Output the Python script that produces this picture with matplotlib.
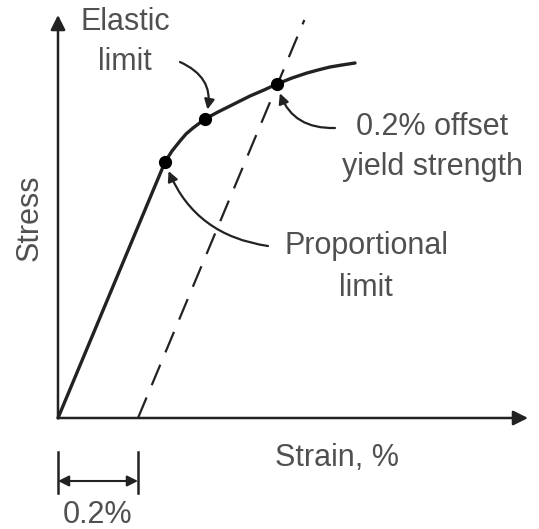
import matplotlib.pyplot as plt
import numpy as np

# curva tensão x deformação (deformação em %, tensão em unidades arbitrárias)
deformacao = np.array([0.0, 0.2675, 0.285, 0.305, 0.32, 0.3375, 0.3675, 0.40, 0.43, 0.455,
                       0.48, 0.515, 0.5475, 0.585, 0.6225, 0.65, 0.68, 0.71, 0.7425])
tensao = np.array([0.0, 256, 267, 277, 284, 290, 299, 306, 312, 317,
                   322, 328, 334, 340, 345, 348, 351, 353, 355])

offset = 0.2  # deslocamento de 0.2%
modulo = tensao[1] / deformacao[1]
tensao_max_offset = 398

# pontos destacados: limite de proporcionalidade, elástico, escoamento
idx_prop, idx_elast, idx_esc = 1, 6, 12

cor = '#222222'
cor_txt = '#505050'
plt.rcParams['font.family'] = ['Liberation Sans', 'DejaVu Sans']

fig = plt.figure(figsize=(5.39, 5.29), dpi=100)
ax = fig.add_axes([0, 0, 1, 1])
ax.set_xlim(-0.145, 1.2025)
ax.set_ylim(-111, 418)
ax.axis('off')

# eixos com setas
seta = dict(arrowstyle='-|>', color=cor, lw=1.8, mutation_scale=22, shrinkA=0, shrinkB=0)
ax.annotate('', xy=(0, 403), xytext=(0, 0), arrowprops=seta)
ax.annotate('', xy=(1.175, 0), xytext=(0, 0), arrowprops=seta)

# curva
ax.plot(deformacao, tensao, color=cor, lw=2.4, solid_capstyle='round', solid_joinstyle='round')

# linha paralela com offset de 0.2%
x_off = np.array([offset, offset + tensao_max_offset / modulo])
ax.plot(x_off, modulo * (x_off - offset), color=cor, lw=1.6, ls=(0, (10, 6)))

# pontos
pts = [idx_prop, idx_elast, idx_esc]
ax.plot(deformacao[pts], tensao[pts], 'o', color='black', ms=8.5)

# anotações
fs = 22
seta_curva = dict(arrowstyle='-|>', color=cor, lw=1.6, mutation_scale=15, shrinkA=0, shrinkB=7)
ax.text(0.1675, 376, 'Elastic\nlimit', ha='center', va='center', fontsize=fs, color=cor_txt, linespacing=1.45)
ax.annotate('', xy=(deformacao[idx_elast], tensao[idx_elast]), xytext=(0.305, 356),
            arrowprops=dict(seta_curva, connectionstyle='arc3,rad=-0.45'))

ax.text(0.935, 271, '0.2% offset\nyield strength', ha='center', va='center', fontsize=fs, color=cor_txt, linespacing=1.4)
ax.annotate('', xy=(deformacao[idx_esc], tensao[idx_esc]), xytext=(0.6925, 290),
            arrowprops=dict(seta_curva, connectionstyle='arc3,rad=-0.4'))

ax.text(0.77, 151, 'Proportional\nlimit', ha='center', va='center', fontsize=fs, color=cor_txt, linespacing=1.5)
ax.annotate('', xy=(deformacao[idx_prop], tensao[idx_prop]), xytext=(0.525, 172),
            arrowprops=dict(seta_curva, connectionstyle='arc3,rad=-0.3'))

ax.text(0.6975, -40, 'Strain, %', ha='center', va='center', fontsize=fs, color=cor_txt)
ax.text(-0.07, 200, 'Stress', ha='center', va='center', fontsize=fs, color=cor_txt, rotation=90)

# cota de 0.2%
ax.plot([0, 0], [-34, -75], color=cor, lw=1.8)
ax.plot([offset, offset], [-34, -75], color=cor, lw=1.8)
ax.annotate('', xy=(offset, -63), xytext=(0, -63),
            arrowprops=dict(arrowstyle='<|-|>', color=cor, lw=1.5, mutation_scale=16, shrinkA=0, shrinkB=0))
ax.text(0.1, -97, '0.2%', ha='center', va='center', fontsize=fs, color=cor_txt)

fig.savefig('out.png', dpi=100)
